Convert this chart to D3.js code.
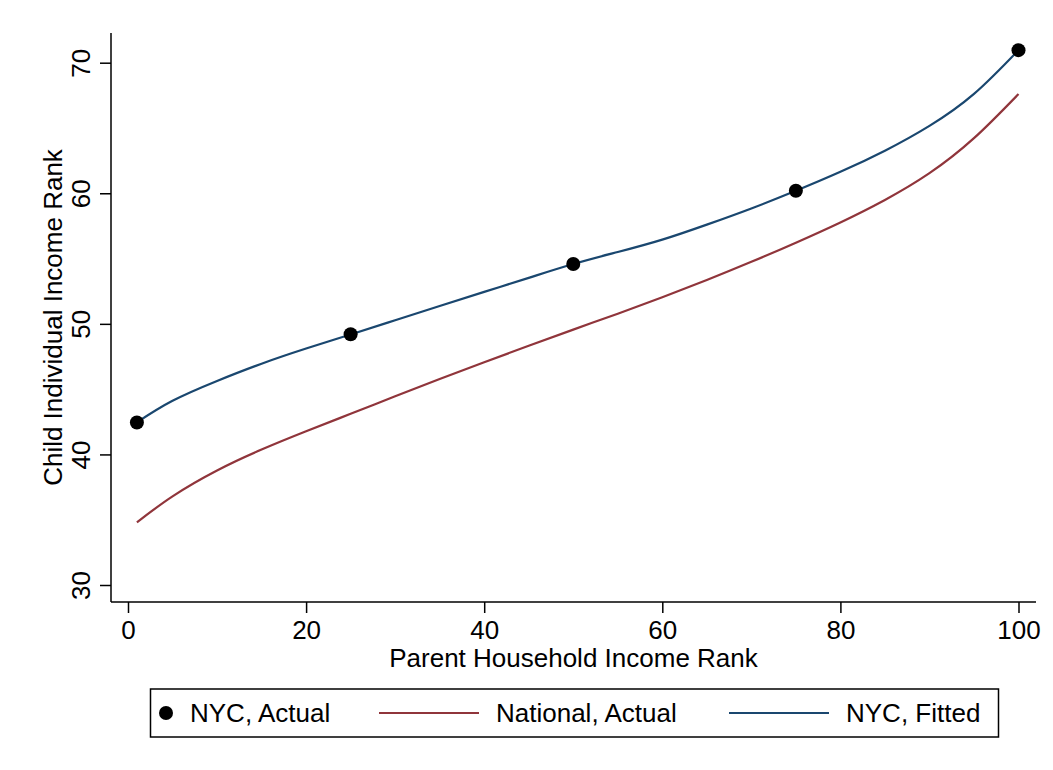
<!DOCTYPE html>
<html>
<head>
<meta charset="utf-8">
<script src="https://cdn.jsdelivr.net/npm/d3@7/dist/d3.min.js"></script>
<style>
  html, body { margin: 0; padding: 0; background: #fff; }
  svg { display: block; }
  text { font-family: "Liberation Sans", Arial, Helvetica, sans-serif; fill: #000; }
</style>
</head>
<body>
<svg id="chart" width="1053" height="770"></svg>
<script>
// NYC observed points (parent rank -> child rank)
const nycActualX = [1, 25, 50, 75, 100];
const nycActualY = [42.45, 49.2, 54.58, 60.19, 70.96];

// NYC fitted curve
const fittedX = [1, 5, 10, 15, 20, 25, 30, 35, 40, 45, 50, 55, 60, 65, 70, 75, 80, 85, 90, 95, 100];
const fittedY = [42.46, 44.11, 45.63, 46.95, 48.11, 49.19, 50.28, 51.37, 52.45, 53.52, 54.58,
                 55.50, 56.45, 57.60, 58.84, 60.19, 61.64, 63.26, 65.16, 67.61, 70.96];

// National curve
const nationalX = [1, 5, 10, 15, 20, 25, 30, 35, 40, 45, 50, 55, 60, 65, 70, 75, 80, 85, 90, 95, 100];
const nationalY = [34.8, 36.79, 38.77, 40.37, 41.77, 43.11, 44.45, 45.77, 47.06, 48.32, 49.56,
                   50.78, 52.04, 53.36, 54.75, 56.22, 57.77, 59.49, 61.54, 64.22, 67.6];

const xTicks = [0, 20, 40, 60, 80, 100];
const yTicks = [30, 40, 50, 60, 70];

const legendLabels = ["NYC, Actual", "National, Actual", "NYC, Fitted"];

const BLUE = "#1a476f";
const RED = "#90353b";
const FONT = 26;

const svg = d3.select("#chart");

const x = d3.scaleLinear().domain([0, 100]).range([128, 1018.5]);
const y = d3.scaleLinear().domain([30, 70]).range([585, 62.7]);

const axisLeftX = 111, axisBottomY = 602;
const plotRight = 1036, plotTop = 33;

// Y axis
const yAxis = svg.append("g")
  .attr("transform", `translate(${axisLeftX},0)`)
  .call(d3.axisLeft(y).tickValues(yTicks).tickSize(11).tickPadding(0).tickFormat(d3.format("d")));
yAxis.select(".domain").remove();
yAxis.append("line")
  .attr("x1", 0).attr("x2", 0).attr("y1", plotTop).attr("y2", axisBottomY)
  .attr("stroke", "#000").attr("stroke-width", 1.5);
yAxis.selectAll(".tick line").attr("stroke", "#000").attr("stroke-width", 1.5);
yAxis.selectAll(".tick text")
  .attr("x", null).attr("dy", null)
  .attr("text-anchor", "middle")
  .attr("font-size", FONT)
  .attr("transform", "translate(-21,0) rotate(-90)")
  .attr("y", 0);

// X axis
const xAxis = svg.append("g")
  .attr("transform", `translate(0,${axisBottomY})`)
  .call(d3.axisBottom(x).tickValues(xTicks).tickSize(11).tickPadding(0).tickFormat(d3.format("d")));
xAxis.select(".domain").remove();
xAxis.append("line")
  .attr("x1", axisLeftX).attr("x2", plotRight).attr("y1", 0).attr("y2", 0)
  .attr("stroke", "#000").attr("stroke-width", 1.5);
xAxis.selectAll(".tick line").attr("stroke", "#000").attr("stroke-width", 1.5);
xAxis.selectAll(".tick text")
  .attr("dy", null)
  .attr("y", 37)
  .attr("font-size", FONT);

// Axis titles
svg.append("text")
  .attr("x", (axisLeftX + plotRight) / 2).attr("y", 667)
  .attr("text-anchor", "middle").attr("font-size", FONT)
  .text("Parent Household Income Rank");

svg.append("text")
  .attr("transform", `translate(61.5,${(plotTop + axisBottomY) / 2}) rotate(-90)`)
  .attr("text-anchor", "middle").attr("font-size", FONT)
  .text("Child Individual Income Rank");

// Curves
const line = d3.line()
  .x(d => x(d[0])).y(d => y(d[1]))
  .curve(d3.curveNatural);

svg.append("path")
  .datum(d3.zip(nationalX, nationalY))
  .attr("d", line)
  .attr("fill", "none").attr("stroke", RED).attr("stroke-width", 2.2);

svg.append("path")
  .datum(d3.zip(fittedX, fittedY))
  .attr("d", line)
  .attr("fill", "none").attr("stroke", BLUE).attr("stroke-width", 2.2);

// Observed points
svg.append("g").selectAll("circle")
  .data(d3.zip(nycActualX, nycActualY))
  .join("circle")
  .attr("cx", d => x(d[0])).attr("cy", d => y(d[1]))
  .attr("r", 7).attr("fill", "#000");

// Legend
const lg = svg.append("g");
lg.append("rect")
  .attr("x", 150.5).attr("y", 689).attr("width", 848).attr("height", 48)
  .attr("fill", "#fff").attr("stroke", "#000").attr("stroke-width", 1.5);
const ly = 713;
lg.append("circle").attr("cx", 166).attr("cy", ly).attr("r", 7).attr("fill", "#000");
lg.append("text").attr("x", 190).attr("y", ly + 9).attr("font-size", FONT).text(legendLabels[0]);
lg.append("line").attr("x1", 379).attr("x2", 479).attr("y1", ly).attr("y2", ly)
  .attr("stroke", RED).attr("stroke-width", 2.2);
lg.append("text").attr("x", 496).attr("y", ly + 9).attr("font-size", FONT).text(legendLabels[1]);
lg.append("line").attr("x1", 729).attr("x2", 829).attr("y1", ly).attr("y2", ly)
  .attr("stroke", BLUE).attr("stroke-width", 2.2);
lg.append("text").attr("x", 846).attr("y", ly + 9).attr("font-size", FONT).text(legendLabels[2]);
</script>
</body>
</html>
